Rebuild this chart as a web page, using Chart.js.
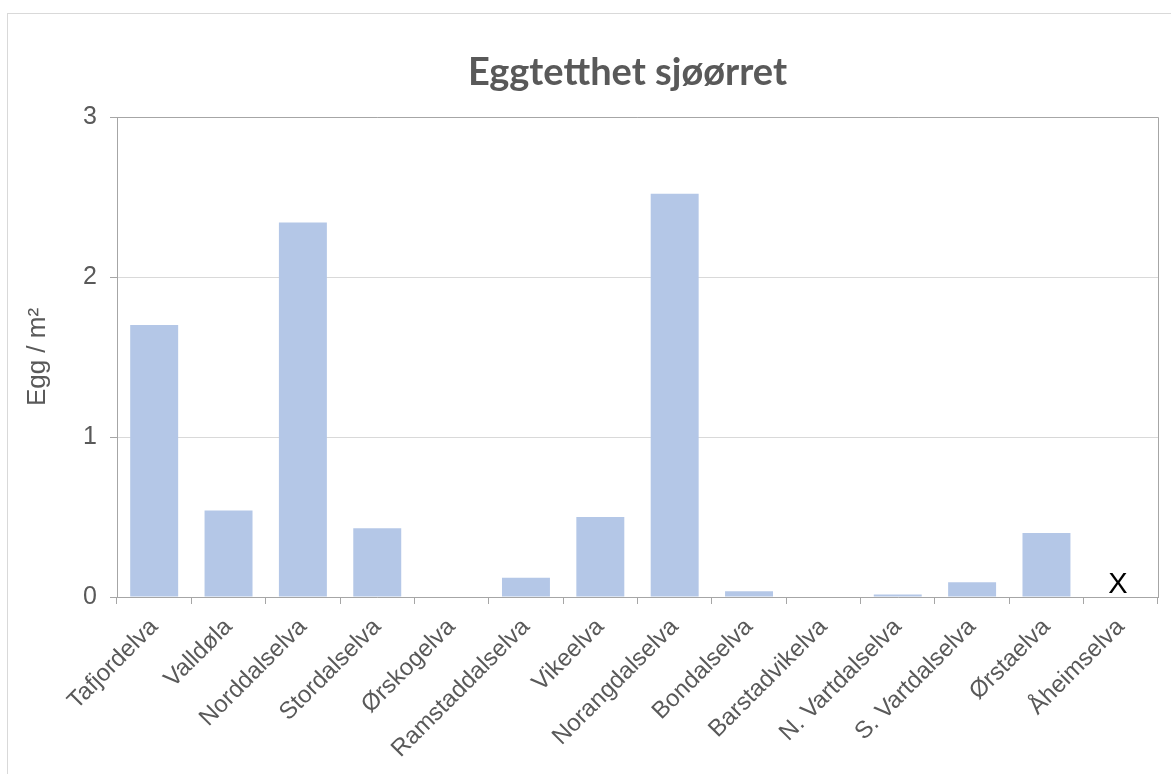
<!DOCTYPE html>
<html>
<head>
<meta charset="utf-8">
<script src="https://cdn.jsdelivr.net/npm/chart.js@4"></script>
<style>
  html, body { margin: 0; padding: 0; background: #fff; overflow: hidden; }
  #frame { position: absolute; left: 7px; top: 13px; width: 1300px; height: 900px;
           border-left: 1px solid #d9d9d9; border-top: 1px solid #d9d9d9; }
  #chart { position: absolute; left: 0; top: 0; }
</style>
</head>
<body>
<div id="frame"></div>
<canvas id="chart" width="1171" height="774"></canvas>
<script>
// data
const rivers = ['Tafjordelva', 'Valldøla', 'Norddalselva', 'Stordalselva', 'Ørskogelva',
  'Ramstaddalselva', 'Vikeelva', 'Norangdalselva', 'Bondalselva', 'Barstadvikelva',
  'N. Vartdalselva', 'S. Vartdalselva', 'Ørstaelva', 'Åheimselva'];
const eggDensity = [1.70, 0.54, 2.34, 0.43, 0, 0.12, 0.50, 2.52, 0.036, 0, 0.015, 0.092, 0.40, null];
const missing = ['Åheimselva'];      // no data, marked with an X
const yTicks = [0, 1, 2, 3];
const chartTitle = 'Eggtetthet sjøørret';
const yTitle = 'Egg / m²';

const grey = '#595959';
const axisGrey = '#a6a6a6';
const arial = '"Liberation Sans", Arial, sans-serif';

// marks rivers without data with an X, and frames the plot area
const extras = {
  id: 'extras',
  afterLayout(chart) {
    // Excel centres the title over the plot area, not the canvas
    chart.titleBlock.left = chart.chartArea.left - 20;
    chart.titleBlock.right = chart.chartArea.right;
  },
  beforeDatasetsDraw(chart) {
    const { ctx, chartArea: a } = chart;
    ctx.save();
    ctx.strokeStyle = axisGrey;
    ctx.lineWidth = 1;
    ctx.beginPath();
    ctx.moveTo(a.left, a.top + 0.5);
    ctx.lineTo(a.right + 0.5, a.top + 0.5);
    ctx.lineTo(a.right + 0.5, a.bottom);
    ctx.stroke();
    ctx.restore();
  },
  afterDatasetsDraw(chart) {
    const { ctx, scales } = chart;
    ctx.save();
    ctx.fillStyle = '#000';
    ctx.font = '29px ' + arial;
    ctx.textAlign = 'center';
    ctx.textBaseline = 'alphabetic';
    missing.forEach(name => {
      const i = rivers.indexOf(name);
      ctx.fillText('X', scales.x.getPixelForValue(i) - 3, scales.y.getPixelForValue(0) - 4);
    });
    ctx.restore();
  }
};

new Chart(document.getElementById('chart'), {
  type: 'bar',
  data: {
    labels: rivers,
    datasets: [{
      data: eggDensity,
      backgroundColor: '#b4c7e7',
      borderWidth: 0,
      barPercentage: 0.645,
      categoryPercentage: 1
    }]
  },
  plugins: [extras],
  options: {
    responsive: false,
    animation: false,
    layout: { padding: { left: 0, right: 13, top: 0, bottom: 0 } },
    plugins: {
      legend: { display: false },
      tooltip: { enabled: false },
      title: {
        display: true,
        text: chartTitle,
        color: grey,
        font: { family: 'Lato', size: 38, weight: 'bold', lineHeight: 1.2 },
        padding: { top: 50, bottom: 21.4 }
      }
    },
    scales: {
      x: {
        afterFit(scale) { scale.height = 177; },
        grid: { offset: true, drawOnChartArea: false, tickLength: 7, tickColor: axisGrey },
        border: { color: axisGrey },
        ticks: {
          color: grey,
          minRotation: 45,
          maxRotation: 45,
          padding: 9,
          autoSkip: false,
          font: { family: arial, size: 24 }
        }
      },
      y: {
        min: 0,
        max: 3,
        afterFit(scale) { scale.width = 117; },
        afterBuildTicks(scale) { scale.ticks = yTicks.map(v => ({ value: v })); },
        grid: { color: '#d9d9d9', tickLength: 7, tickColor: axisGrey },
        border: { color: axisGrey },
        ticks: {
          color: grey,
          padding: 13,
          font: { family: arial, size: 25 }
        },
        title: {
          display: true,
          text: yTitle,
          color: grey,
          padding: { top: 22, bottom: 0 },
          font: { family: arial, size: 26 }
        }
      }
    }
  }
});
</script>
</body>
</html>
